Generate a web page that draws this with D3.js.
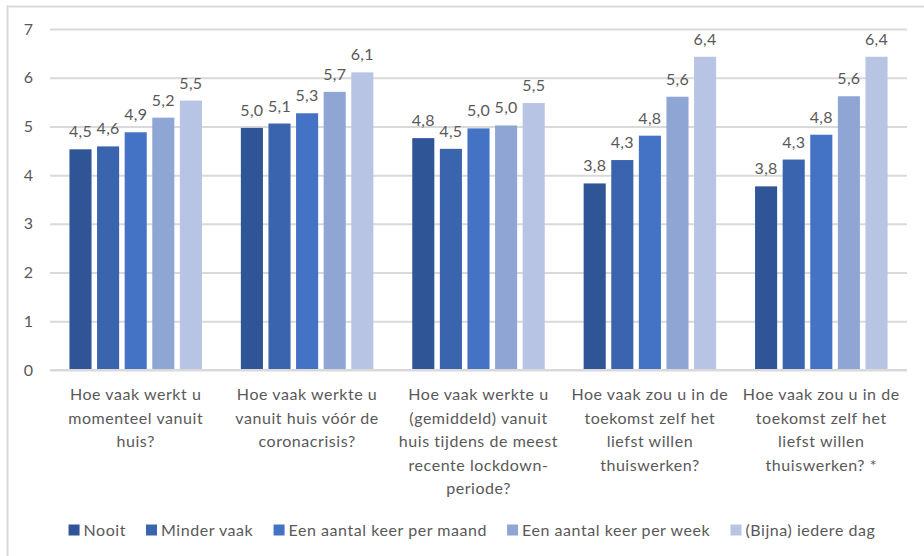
<!DOCTYPE html>
<html>
<head>
<meta charset="utf-8">
<script src="https://cdn.jsdelivr.net/npm/d3@7"></script>
<style>
  body { margin: 0; background: #fff; }
  text { font-family: Lato, "Open Sans", sans-serif; fill: #595959; }
</style>
</head>
<body>
<div id="graph"></div>
<script>
// Data
const categories = [
    ["Hoe vaak werkt u", "momenteel vanuit", "huis?"],
    ["Hoe vaak werkte u", "vanuit huis vóór de", "coronacrisis?"],
    ["Hoe vaak werkte u", "(gemiddeld) vanuit", "huis tijdens de meest", "recente lockdown-", "periode?"],
    ["Hoe vaak zou u in de", "toekomst zelf het", "liefst willen", "thuiswerken?"],
    ["Hoe vaak zou u in de", "toekomst zelf het", "liefst willen", "thuiswerken? *"]
];
const seriesNames = ["Nooit", "Minder vaak", "Een aantal keer per maand", "Een aantal keer per week", "(Bijna) iedere dag"];
const seriesColors = ["#2F5597", "#3A64AD", "#4472C4", "#8FA6D5", "#B7C4E4"];
const nooit = [4.53, 4.97, 4.76, 3.83, 3.77];
const minderVaak = [4.59, 5.06, 4.54, 4.31, 4.32];
const perMaand = [4.88, 5.27, 4.96, 4.81, 4.83];
const perWeek = [5.18, 5.71, 5.02, 5.61, 5.62];
const iedereDag = [5.53, 6.11, 5.48, 6.43, 6.43];
const yTicks = [0, 1, 2, 3, 4, 5, 6, 7];

const series = [nooit, minderVaak, perMaand, perWeek, iedereDag];

// Dimensions
const width = 924;
const height = 556;
const marginTop = 29;
const marginLeft = 50;
const plotRight = 907;
const plotBottom = 370;

const svg = d3.create("svg")
    .attr("width", width)
    .attr("height", height);

// Chart frame
svg.append("rect")
    .attr("x", 7.5)
    .attr("y", 6.5)
    .attr("width", 940)
    .attr("height", 580)
    .attr("fill", "none")
    .attr("stroke", "#D9D9D9")
    .attr("stroke-width", 2);

const x0 = d3.scaleBand()
    .domain(d3.range(categories.length))
    .range([marginLeft, plotRight])
    .paddingInner(0.227)
    .paddingOuter(0.1135);

const x1 = d3.scaleBand()
    .domain(d3.range(seriesNames.length))
    .range([0, x0.bandwidth()])
    .paddingInner(0.2);

const y = d3.scaleLinear()
    .domain([0, 7])
    .range([plotBottom, marginTop]);

// Gridlines + y labels
const yAxis = d3.axisLeft(y)
    .tickValues(yTicks)
    .tickSize(-(plotRight - marginLeft))
    .tickPadding(17)
    .tickFormat(d3.format("d"));

svg.append("g")
    .attr("transform", `translate(${marginLeft},0)`)
    .call(yAxis)
    .call(g => g.select(".domain").remove())
    .call(g => g.selectAll(".tick line").attr("stroke", "#D9D9D9").attr("stroke-width", 2))
    .call(g => g.selectAll(".tick text").attr("font-size", 16).style("fill", "#595959").attr("font-family", "Lato"));

// Bars
const groups = svg.append("g")
    .selectAll("g")
    .data(categories.map((c, i) => i))
    .join("g")
    .attr("transform", i => `translate(${x0(i)},0)`);

groups.selectAll("rect")
    .data(i => series.map((s, j) => ({ j, v: s[i] })))
    .join("rect")
    .attr("x", d => x1(d.j))
    .attr("y", d => y(d.v))
    .attr("width", x1.bandwidth())
    .attr("height", d => y(0) - y(d.v))
    .attr("fill", d => seriesColors[d.j]);

const fmt = v => v.toFixed(1).replace(".", ",");

groups.selectAll("text")
    .data(i => series.map((s, j) => ({ j, v: s[i] })))
    .join("text")
    .attr("x", d => x1(d.j) + x1.bandwidth() / 2)
    .attr("y", d => y(d.v) - 12)
    .attr("text-anchor", "middle")
    .attr("font-size", 16)
    .attr("letter-spacing", 0.3)
    .text(d => fmt(d.v));

// Zero line on top
svg.append("line")
    .attr("x1", marginLeft)
    .attr("x2", plotRight)
    .attr("y1", y(0))
    .attr("y2", y(0))
    .attr("stroke", "#D9D9D9")
    .attr("stroke-width", 2);

// Category labels
const catLabels = svg.append("g")
    .selectAll("text")
    .data(categories)
    .join("text")
    .attr("x", (d, i) => x0(i) + x0.bandwidth() / 2)
    .attr("y", 400)
    .attr("text-anchor", "middle")
    .attr("font-size", 16)
    .attr("letter-spacing", 0.55);

catLabels.selectAll("tspan")
    .data(d => d)
    .join("tspan")
    .attr("x", function() { return this.parentNode.getAttribute("x"); })
    .attr("dy", (d, i) => i === 0 ? 0 : 23.5)
    .text(d => d);

// Legend
const legend = svg.append("g")
    .attr("transform", "translate(0,530)");

const items = legend.selectAll("g")
    .data(seriesNames)
    .join("g");

items.append("rect")
    .attr("y", -5.5)
    .attr("width", 11)
    .attr("height", 11)
    .attr("fill", (d, i) => seriesColors[i]);

items.append("text")
    .attr("x", 15)
    .attr("y", 5.5)
    .attr("font-size", 16)
    .attr("letter-spacing", 0.55)
    .text(d => d);

document.getElementById("graph").appendChild(svg.node());

// place legend items side by side, centred
let offset = 0;
const positions = [];
items.each(function() {
    positions.push(offset);
    offset += this.getBBox().width + 20;
});
offset -= 20;
const start = 472 - offset / 2;
items.attr("transform", (d, i) => `translate(${start + positions[i]},0)`);
</script>
</body>
</html>
